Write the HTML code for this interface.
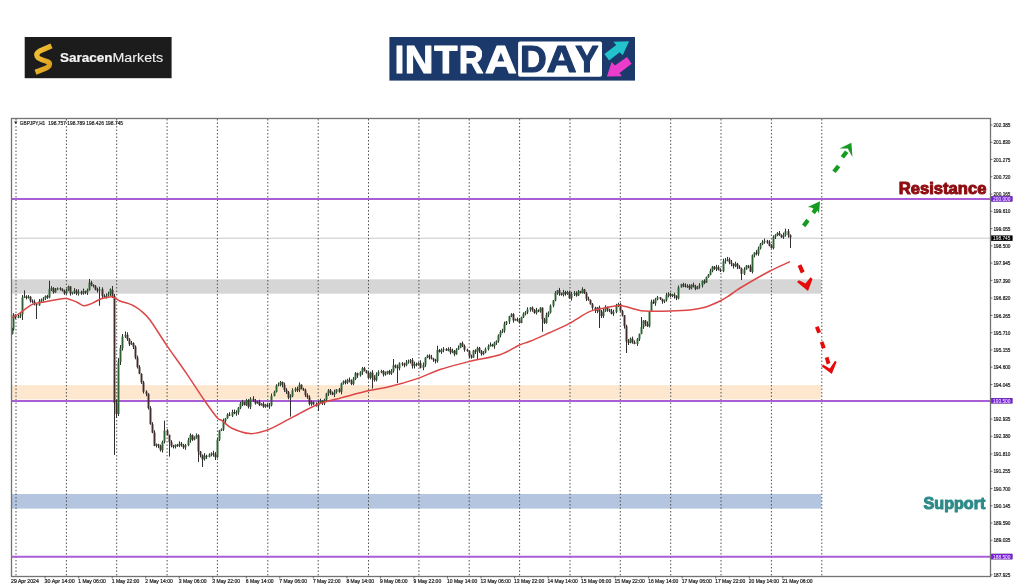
<!DOCTYPE html>
<html><head><meta charset="utf-8">
<style>
html,body{margin:0;padding:0;background:#fff;}
body{width:1024px;height:587px;overflow:hidden;position:relative;font-family:"Liberation Sans",sans-serif;}
svg{position:absolute;left:0;top:0;will-change:transform;}
svg text{font-family:"Liberation Sans",sans-serif;}
</style></head><body>
<svg width="1024" height="587" viewBox="0 0 1024 587">
<rect x="24.7" y="37" width="146.9" height="41.2" fill="#1c1c1c"/>
<defs><linearGradient id="gg" x1="0" y1="0" x2="1" y2="1"><stop offset="0" stop-color="#f5c53a"/><stop offset="1" stop-color="#d99a18"/></linearGradient></defs>
<path d="M51.5,45.8 L39.5,51.2 Q35.8,53.2 37.2,56.6 Q38.2,58.6 41.5,59.6 L47.5,61.6 Q50.6,63 49.2,65.6 Q48.2,67.2 45.5,68.4 L35.5,72.2" fill="none" stroke="url(#gg)" stroke-width="5.2" stroke-linejoin="round"/>
<text transform="translate(59.91 61.60) scale(1.1346 1)" font-size="11.92" font-weight="bold" fill="#f4f4f4" stroke="#f4f4f4" stroke-width="0.20" stroke-linejoin="round">Saracen</text>
<text transform="translate(112.48 61.65) scale(1.1838 1)" font-size="12.06"  fill="#f0f0f0" stroke="#f0f0f0" stroke-width="0.10" stroke-linejoin="round">Markets</text>
<rect x="389.4" y="37" width="245.6" height="43.6" fill="#1b3a6b"/>
<text transform="translate(394.87 72.55) scale(0.8735 1)" font-size="38.95" font-weight="bold" fill="#ffffff" stroke="#ffffff" stroke-width="1.10" stroke-linejoin="round">I</text>
<text transform="translate(404.68 72.55) scale(1.0216 1)" font-size="38.95" font-weight="bold" fill="#ffffff" stroke="#ffffff" stroke-width="1.10" stroke-linejoin="round">N</text>
<text transform="translate(434.23 72.55) scale(0.9763 1)" font-size="38.95" font-weight="bold" fill="#ffffff" stroke="#ffffff" stroke-width="1.10" stroke-linejoin="round">T</text>
<text transform="translate(458.76 72.55) scale(0.8787 1)" font-size="38.95" font-weight="bold" fill="#ffffff" stroke="#ffffff" stroke-width="1.10" stroke-linejoin="round">R</text>
<text transform="translate(484.95 72.55) scale(1.1286 1)" font-size="38.95" font-weight="bold" fill="#ffffff" stroke="#ffffff" stroke-width="1.10" stroke-linejoin="round">A</text>
<rect x="518.1" y="41.4" width="83.9" height="35.3" rx="2" fill="#fff"/>
<text transform="translate(520.07 71.75) scale(1.0070 1)" font-size="36.77" font-weight="bold" fill="#1b3a6b" stroke="#1b3a6b" stroke-width="1.10" stroke-linejoin="round">D</text>
<text transform="translate(546.51 71.75) scale(1.1348 1)" font-size="36.77" font-weight="bold" fill="#1b3a6b" stroke="#1b3a6b" stroke-width="1.10" stroke-linejoin="round">A</text>
<text transform="translate(575.15 71.75) scale(0.9522 1)" font-size="36.77" font-weight="bold" fill="#1b3a6b" stroke="#1b3a6b" stroke-width="1.10" stroke-linejoin="round">Y</text>
<polygon points="604.4,54 609.1,60.4 619.7,52.3 622.7,55.3 629.1,41.2 613.3,41.7 616.3,45.1" fill="#22c3cc"/>
<polygon points="606.9,76.6 611.6,62.1 615,65.5 627,57 631.6,63.8 619.5,73 621.9,76.2" fill="#ec3ccb"/>
<rect x="12" y="279.3" width="809.3" height="14.4" fill="#d6d6d6"/>
<rect x="12" y="385.2" width="809.3" height="14.2" fill="#fde7cf"/>
<rect x="12" y="494" width="809.3" height="14.6" fill="#b3c5df"/>
<line x1="12" y1="238.2" x2="990" y2="238.2" stroke="#c8c8c8" stroke-width="1"/>
<line x1="16.0" y1="119" x2="16.0" y2="576" stroke="#505050" stroke-width="1" stroke-dasharray="1.5,2"/>
<line x1="66.4" y1="119" x2="66.4" y2="576" stroke="#505050" stroke-width="1" stroke-dasharray="1.5,2"/>
<line x1="116.7" y1="119" x2="116.7" y2="576" stroke="#505050" stroke-width="1" stroke-dasharray="1.5,2"/>
<line x1="167.1" y1="119" x2="167.1" y2="576" stroke="#505050" stroke-width="1" stroke-dasharray="1.5,2"/>
<line x1="217.4" y1="119" x2="217.4" y2="576" stroke="#505050" stroke-width="1" stroke-dasharray="1.5,2"/>
<line x1="267.8" y1="119" x2="267.8" y2="576" stroke="#505050" stroke-width="1" stroke-dasharray="1.5,2"/>
<line x1="318.2" y1="119" x2="318.2" y2="576" stroke="#505050" stroke-width="1" stroke-dasharray="1.5,2"/>
<line x1="368.5" y1="119" x2="368.5" y2="576" stroke="#505050" stroke-width="1" stroke-dasharray="1.5,2"/>
<line x1="418.9" y1="119" x2="418.9" y2="576" stroke="#505050" stroke-width="1" stroke-dasharray="1.5,2"/>
<line x1="469.2" y1="119" x2="469.2" y2="576" stroke="#505050" stroke-width="1" stroke-dasharray="1.5,2"/>
<line x1="519.6" y1="119" x2="519.6" y2="576" stroke="#505050" stroke-width="1" stroke-dasharray="1.5,2"/>
<line x1="570.0" y1="119" x2="570.0" y2="576" stroke="#505050" stroke-width="1" stroke-dasharray="1.5,2"/>
<line x1="620.3" y1="119" x2="620.3" y2="576" stroke="#505050" stroke-width="1" stroke-dasharray="1.5,2"/>
<line x1="670.7" y1="119" x2="670.7" y2="576" stroke="#505050" stroke-width="1" stroke-dasharray="1.5,2"/>
<line x1="721.0" y1="119" x2="721.0" y2="576" stroke="#505050" stroke-width="1" stroke-dasharray="1.5,2"/>
<line x1="771.4" y1="119" x2="771.4" y2="576" stroke="#505050" stroke-width="1" stroke-dasharray="1.5,2"/>
<line x1="821.8" y1="119" x2="821.8" y2="576" stroke="#505050" stroke-width="1" stroke-dasharray="1.5,2"/>
<line x1="12" y1="198.9" x2="990" y2="198.9" stroke="#a95ed6" stroke-width="2"/>
<line x1="12" y1="400.9" x2="990" y2="400.9" stroke="#a95ed6" stroke-width="2"/>
<line x1="12" y1="556.8" x2="990" y2="556.8" stroke="#a95ed6" stroke-width="2"/>
<path d="M12.50,327.8V334.5M13.50,313.2V330.7M15.50,314.3V319.1M18.50,314.8V318.2M20.50,312.7V318.1M22.50,295.0V320.0M24.50,290.3V298.1M26.50,295.2V299.4M28.50,295.1V298.6M30.50,296.2V302.7M32.50,299.4V303.3M34.50,299.6V305.4M36.50,303.2V319.0M39.50,299.1V305.8M41.50,298.5V302.6M43.50,297.1V301.6M45.50,295.4V299.9M47.50,294.8V298.9M49.50,280.7V298.4M51.50,286.2V291.0M53.50,287.1V293.6M55.50,288.0V292.8M57.50,287.5V290.3M60.50,287.2V290.5M62.50,288.3V291.5M64.50,289.6V294.8M66.50,288.8V294.5M68.50,285.6V291.2M70.50,286.1V295.6M72.50,291.7V294.6M74.50,288.1V293.9M76.50,289.1V295.2M78.50,289.4V295.6M81.50,290.6V294.8M83.50,288.6V294.7M85.50,290.6V294.1M87.50,288.6V294.9M89.50,279.0V290.6M91.50,280.8V286.3M93.50,284.3V287.5M95.50,285.1V290.3M97.50,287.7V292.6M99.50,286.8V305.8M102.50,287.4V298.4M104.50,294.2V297.6M106.50,293.3V298.6M108.50,291.7V296.6M110.50,288.4V295.9M112.50,286.0V298.0M114.50,294.0V455.0M116.50,400.0V418.0M118.50,358.0V416.0M120.50,345.0V365.0M122.50,334.0V350.5M125.50,331.5V338.0M127.50,332.3V340.9M129.50,338.1V346.1M131.50,340.9V344.9M133.50,342.3V349.0M135.50,345.4V359.3M137.50,355.6V368.5M139.50,365.1V374.2M141.50,373.3V383.9M143.50,380.9V393.5M146.50,390.3V396.3M148.50,393.2V409.6M150.50,406.1V424.7M152.50,422.2V433.2M154.50,430.3V446.2M156.50,443.5V447.5M158.50,443.8V448.1M160.50,444.6V451.5M162.50,440.6V452.5M164.50,420.6V443.4M167.50,429.2V435.6M169.50,434.6V456.6M171.50,440.2V447.4M173.50,444.8V448.4M175.50,444.3V448.5M177.50,443.9V446.8M179.50,441.3V447.2M181.50,442.0V446.7M183.50,443.9V448.9M185.50,443.9V449.8M188.50,437.8V446.2M190.50,433.4V442.7M192.50,434.4V440.9M194.50,436.3V440.4M196.50,433.4V438.7M198.50,434.3V462.0M200.50,451.0V457.4M202.50,454.4V467.0M204.50,453.1V460.6M206.50,454.7V459.0M209.50,453.3V457.4M211.50,452.3V456.3M213.50,450.8V456.7M215.50,452.1V460.0M217.50,437.6V458.2M219.50,429.9V441.0M221.50,428.4V431.1M223.50,418.6V430.9M225.50,418.0V422.9M227.50,413.2V418.9M229.50,412.2V416.1M232.50,409.7V417.0M234.50,409.5V414.2M236.50,410.3V415.8M238.50,407.0V414.7M240.50,401.7V409.2M242.50,399.9V406.0M244.50,401.7V405.5M246.50,398.9V406.0M248.50,399.1V408.5M250.50,397.2V409.1M253.50,396.2V401.8M255.50,399.0V404.6M257.50,400.6V403.8M259.50,399.7V406.1M261.50,403.1V405.7M263.50,402.0V407.8M265.50,403.8V407.8M267.50,403.3V407.2M269.50,402.9V408.9M271.50,393.5V406.4M274.50,390.7V396.3M276.50,384.3V392.6M278.50,382.5V386.4M280.50,381.0V386.4M282.50,381.5V387.4M284.50,382.6V391.9M286.50,388.1V394.0M288.50,391.0V399.3M290.50,394.3V416.6M292.50,388.3V397.2M295.50,387.3V391.9M297.50,386.6V392.0M299.50,382.4V392.2M301.50,384.4V389.5M303.50,387.8V390.9M305.50,388.6V397.0M307.50,393.4V398.8M309.50,395.3V405.5M311.50,400.5V405.8M313.50,401.2V404.9M316.50,402.4V406.6M318.50,400.6V411.0M320.50,398.7V403.8M322.50,400.3V405.0M324.50,398.7V405.1M326.50,392.8V401.1M328.50,389.0V395.9M330.50,389.0V394.8M332.50,391.5V395.2M334.50,389.7V397.1M336.50,389.0V393.6M339.50,388.0V392.7M341.50,382.6V394.3M343.50,380.4V384.6M345.50,379.6V384.4M347.50,378.7V384.1M349.50,377.5V382.4M351.50,379.3V385.1M353.50,377.1V385.2M355.50,372.1V380.1M357.50,372.6V377.9M360.50,371.2V376.6M362.50,367.0V374.8M364.50,366.9V371.5M366.50,370.1V373.6M368.50,370.6V378.8M370.50,371.7V379.4M372.50,370.1V388.6M374.50,375.2V381.6M376.50,372.3V381.4M378.50,370.3V376.0M381.50,369.8V373.2M383.50,370.1V376.5M385.50,371.5V375.7M387.50,370.7V374.5M389.50,369.8V374.8M391.50,369.1V375.0M393.50,359.0V372.7M395.50,364.4V368.3M397.50,364.7V383.0M399.50,362.3V370.3M402.50,362.1V366.1M404.50,362.7V367.3M406.50,360.0V366.3M408.50,359.6V363.7M410.50,359.0V363.5M412.50,358.1V368.6M414.50,361.7V368.5M416.50,362.6V366.4M418.50,362.1V365.7M420.50,360.4V368.4M423.50,362.5V370.2M425.50,357.1V366.9M427.50,354.6V358.2M429.50,354.3V359.5M431.50,354.9V359.4M433.50,357.8V361.9M435.50,358.8V363.4M437.50,345.7V362.7M439.50,349.0V352.4M441.50,348.4V353.9M443.50,347.1V352.3M446.50,348.1V351.0M448.50,347.3V351.3M450.50,347.0V354.3M452.50,348.6V353.1M454.50,350.0V356.2M456.50,348.2V354.9M458.50,345.5V350.0M460.50,342.8V348.2M462.50,341.5V347.1M464.50,344.5V351.7M467.50,348.7V351.7M469.50,350.4V358.3M471.50,354.6V358.7M473.50,349.9V357.8M475.50,349.3V354.0M477.50,346.7V360.0M479.50,346.9V352.9M481.50,350.0V355.7M483.50,351.1V355.2M485.50,347.5V353.3M488.50,344.4V350.5M490.50,342.4V346.6M492.50,343.8V346.7M494.50,341.8V348.8M496.50,340.3V344.9M498.50,334.3V342.7M500.50,330.2V337.4M502.50,328.8V333.2M504.50,321.6V332.8M506.50,321.0V325.1M509.50,315.8V324.0M511.50,313.2V317.2M513.50,313.1V322.6M515.50,318.6V320.8M517.50,317.5V321.6M519.50,317.9V323.7M521.50,316.7V323.3M523.50,312.3V318.0M525.50,311.1V315.4M527.50,307.3V314.2M530.50,307.1V311.7M532.50,306.5V311.8M534.50,309.0V313.8M536.50,307.9V314.6M538.50,309.4V312.2M540.50,307.2V312.7M542.50,307.3V331.8M544.50,317.9V324.0M546.50,312.6V323.7M548.50,311.4V317.2M550.50,304.4V313.5M553.50,300.0V307.4M555.50,291.1V301.3M557.50,289.9V294.8M559.50,287.9V295.8M561.50,292.6V295.7M563.50,289.9V296.5M565.50,290.8V295.6M567.50,290.8V294.9M569.50,290.8V298.7M571.50,291.8V300.6M574.50,291.0V296.0M576.50,291.3V296.7M578.50,290.0V296.1M580.50,290.8V293.5M582.50,287.3V293.6M584.50,288.9V294.0M586.50,291.8V301.1M588.50,296.6V300.8M590.50,299.4V304.7M592.50,303.0V309.8M595.50,306.7V313.0M597.50,307.0V313.2M599.50,305.6V328.0M601.50,310.0V318.0M603.50,308.8V317.9M605.50,305.2V311.9M607.50,306.5V311.8M609.50,308.7V312.2M611.50,308.9V314.4M613.50,309.7V315.9M616.50,303.8V313.2M618.50,302.7V307.1M620.50,303.0V311.9M622.50,309.9V316.5M624.50,315.0V328.6M626.50,324.7V353.0M628.50,339.1V345.0M630.50,337.5V343.3M632.50,336.6V343.7M634.50,340.4V344.3M637.50,337.9V345.9M639.50,333.5V341.0M641.50,317.0V334.3M643.50,320.1V328.8M645.50,320.0V326.2M647.50,321.4V326.9M649.50,310.9V327.4M651.50,299.7V312.0M653.50,299.5V304.0M655.50,297.9V305.8M657.50,295.9V300.4M660.50,297.0V299.9M662.50,298.5V303.7M664.50,299.5V303.1M666.50,292.8V301.6M668.50,292.2V297.4M670.50,292.6V297.2M672.50,293.8V297.2M674.50,292.7V298.6M676.50,295.2V300.1M678.50,285.5V299.4M681.50,283.8V287.7M683.50,282.8V287.2M685.50,283.3V287.5M687.50,284.2V287.9M689.50,284.3V289.8M691.50,284.2V289.4M693.50,282.6V287.4M695.50,284.8V290.2M697.50,285.8V289.5M699.50,283.2V288.8M702.50,280.4V287.5M704.50,279.3V284.2M706.50,276.5V283.0M708.50,274.0V277.8M710.50,268.7V275.3M712.50,265.9V272.3M714.50,266.0V269.9M716.50,264.9V271.0M718.50,265.3V270.4M720.50,268.3V272.0M723.50,258.7V272.2M725.50,258.0V263.7M727.50,256.9V261.3M729.50,257.5V264.3M731.50,260.0V266.3M733.50,263.2V268.5M735.50,261.7V267.2M737.50,262.9V269.1M739.50,265.2V268.8M741.50,267.6V280.0M744.50,267.2V275.0M746.50,265.0V269.7M748.50,265.1V268.3M750.50,264.6V272.0M752.50,254.5V273.4M754.50,252.2V257.4M756.50,250.1V255.4M758.50,246.6V255.8M760.50,243.0V249.5M762.50,240.2V245.2M764.50,238.6V243.7M767.50,239.9V243.8M769.50,240.2V246.3M771.50,244.1V248.5M773.50,235.4V249.4M775.50,234.1V239.0M777.50,232.1V236.2M779.50,231.0V235.8M781.50,234.3V237.8M783.50,232.6V239.0M785.50,228.7V236.6M788.50,229.0V237.7M790.50,234.4V248.0" stroke="#303030" stroke-width="1" fill="none"/>
<g fill="#2b6231"><rect x="11.55" y="329.6" width="1.9" height="4.4"/><rect x="12.55" y="314.7" width="1.9" height="14.9"/><rect x="17.55" y="316.4" width="1.9" height="1.4"/><rect x="19.55" y="314.4" width="1.9" height="2.0"/><rect x="21.55" y="297.5" width="1.9" height="16.9"/><rect x="23.55" y="296.5" width="1.9" height="1.1"/><rect x="27.55" y="296.7" width="1.9" height="1.2"/><rect x="38.55" y="301.2" width="1.9" height="4.1"/><rect x="40.55" y="299.5" width="1.9" height="1.7"/><rect x="42.55" y="298.4" width="1.9" height="1.2"/><rect x="44.55" y="295.9" width="1.9" height="2.4"/><rect x="48.55" y="289.2" width="1.9" height="8.3"/><rect x="50.55" y="288.1" width="1.9" height="1.1"/><rect x="54.55" y="289.8" width="1.9" height="2.6"/><rect x="56.55" y="288.1" width="1.9" height="1.8"/><rect x="65.55" y="290.7" width="1.9" height="2.6"/><rect x="67.55" y="286.4" width="1.9" height="4.2"/><rect x="71.55" y="292.0" width="1.9" height="1.4"/><rect x="73.55" y="290.6" width="1.9" height="1.4"/><rect x="77.55" y="291.8" width="1.9" height="1.8"/><rect x="82.55" y="291.2" width="1.9" height="2.2"/><rect x="86.55" y="290.2" width="1.9" height="2.2"/><rect x="88.55" y="282.5" width="1.9" height="7.7"/><rect x="98.55" y="289.3" width="1.9" height="1.3"/><rect x="105.55" y="295.6" width="1.9" height="1.5"/><rect x="107.55" y="293.8" width="1.9" height="1.8"/><rect x="109.55" y="289.2" width="1.9" height="4.6"/><rect x="117.55" y="362.0" width="1.9" height="52.0"/><rect x="119.55" y="348.0" width="1.9" height="14.0"/><rect x="121.55" y="336.6" width="1.9" height="11.4"/><rect x="124.55" y="334.9" width="1.9" height="1.7"/><rect x="130.55" y="343.1" width="1.9" height="1.3"/><rect x="155.55" y="444.4" width="1.9" height="1.4"/><rect x="161.55" y="441.9" width="1.9" height="8.2"/><rect x="163.55" y="430.5" width="1.9" height="11.3"/><rect x="174.55" y="444.8" width="1.9" height="2.1"/><rect x="178.55" y="443.7" width="1.9" height="2.1"/><rect x="184.55" y="445.3" width="1.9" height="2.0"/><rect x="187.55" y="440.3" width="1.9" height="5.0"/><rect x="189.55" y="435.0" width="1.9" height="5.3"/><rect x="193.55" y="437.6" width="1.9" height="2.0"/><rect x="195.55" y="435.2" width="1.9" height="2.4"/><rect x="203.55" y="455.7" width="1.9" height="3.6"/><rect x="208.55" y="454.6" width="1.9" height="2.4"/><rect x="210.55" y="453.4" width="1.9" height="1.3"/><rect x="216.55" y="439.7" width="1.9" height="17.6"/><rect x="218.55" y="430.4" width="1.9" height="9.3"/><rect x="220.55" y="429.3" width="1.9" height="1.1"/><rect x="222.55" y="421.0" width="1.9" height="8.3"/><rect x="224.55" y="418.5" width="1.9" height="2.6"/><rect x="226.55" y="414.5" width="1.9" height="3.9"/><rect x="231.55" y="412.0" width="1.9" height="3.7"/><rect x="235.55" y="412.2" width="1.9" height="1.1"/><rect x="237.55" y="407.7" width="1.9" height="4.5"/><rect x="239.55" y="403.5" width="1.9" height="4.3"/><rect x="241.55" y="402.0" width="1.9" height="1.4"/><rect x="245.55" y="400.4" width="1.9" height="4.7"/><rect x="249.55" y="398.7" width="1.9" height="8.0"/><rect x="256.55" y="401.7" width="1.9" height="1.7"/><rect x="260.55" y="403.8" width="1.9" height="1.4"/><rect x="264.55" y="404.6" width="1.9" height="2.2"/><rect x="268.55" y="405.4" width="1.9" height="1.0"/><rect x="270.55" y="396.0" width="1.9" height="9.3"/><rect x="273.55" y="391.9" width="1.9" height="4.2"/><rect x="275.55" y="385.8" width="1.9" height="6.1"/><rect x="277.55" y="384.7" width="1.9" height="1.1"/><rect x="279.55" y="382.0" width="1.9" height="2.7"/><rect x="289.55" y="396.5" width="1.9" height="1.1"/><rect x="291.55" y="390.4" width="1.9" height="6.1"/><rect x="294.55" y="388.8" width="1.9" height="1.7"/><rect x="298.55" y="384.7" width="1.9" height="5.6"/><rect x="310.55" y="402.1" width="1.9" height="1.9"/><rect x="317.55" y="402.9" width="1.9" height="2.9"/><rect x="319.55" y="401.1" width="1.9" height="1.8"/><rect x="323.55" y="399.7" width="1.9" height="3.6"/><rect x="325.55" y="393.4" width="1.9" height="6.3"/><rect x="327.55" y="390.4" width="1.9" height="3.0"/><rect x="333.55" y="392.2" width="1.9" height="2.4"/><rect x="335.55" y="389.3" width="1.9" height="2.9"/><rect x="340.55" y="383.4" width="1.9" height="8.4"/><rect x="342.55" y="381.3" width="1.9" height="2.1"/><rect x="346.55" y="379.9" width="1.9" height="2.8"/><rect x="352.55" y="379.1" width="1.9" height="4.8"/><rect x="354.55" y="373.2" width="1.9" height="5.9"/><rect x="359.55" y="372.2" width="1.9" height="3.3"/><rect x="361.55" y="368.2" width="1.9" height="4.0"/><rect x="369.55" y="372.6" width="1.9" height="5.3"/><rect x="375.55" y="374.3" width="1.9" height="5.8"/><rect x="377.55" y="372.3" width="1.9" height="2.0"/><rect x="380.55" y="371.0" width="1.9" height="1.3"/><rect x="384.55" y="373.1" width="1.9" height="1.5"/><rect x="386.55" y="371.1" width="1.9" height="2.0"/><rect x="390.55" y="371.1" width="1.9" height="2.6"/><rect x="392.55" y="365.3" width="1.9" height="5.8"/><rect x="398.55" y="363.3" width="1.9" height="5.0"/><rect x="405.55" y="362.4" width="1.9" height="2.7"/><rect x="407.55" y="361.4" width="1.9" height="1.0"/><rect x="409.55" y="360.2" width="1.9" height="1.2"/><rect x="413.55" y="364.1" width="1.9" height="1.9"/><rect x="417.55" y="362.9" width="1.9" height="2.2"/><rect x="422.55" y="364.8" width="1.9" height="3.0"/><rect x="424.55" y="357.6" width="1.9" height="7.2"/><rect x="426.55" y="355.6" width="1.9" height="2.0"/><rect x="436.55" y="350.0" width="1.9" height="11.2"/><rect x="440.55" y="349.9" width="1.9" height="2.2"/><rect x="442.55" y="348.9" width="1.9" height="1.0"/><rect x="447.55" y="349.1" width="1.9" height="1.5"/><rect x="451.55" y="350.8" width="1.9" height="1.5"/><rect x="455.55" y="349.6" width="1.9" height="4.6"/><rect x="457.55" y="347.9" width="1.9" height="1.7"/><rect x="459.55" y="343.2" width="1.9" height="4.7"/><rect x="472.55" y="350.6" width="1.9" height="6.9"/><rect x="476.55" y="347.9" width="1.9" height="3.8"/><rect x="482.55" y="352.5" width="1.9" height="1.7"/><rect x="484.55" y="349.2" width="1.9" height="3.2"/><rect x="487.55" y="346.1" width="1.9" height="3.1"/><rect x="489.55" y="344.6" width="1.9" height="1.6"/><rect x="493.55" y="342.9" width="1.9" height="3.3"/><rect x="495.55" y="340.8" width="1.9" height="2.2"/><rect x="497.55" y="335.3" width="1.9" height="5.5"/><rect x="499.55" y="331.9" width="1.9" height="3.4"/><rect x="501.55" y="330.7" width="1.9" height="1.2"/><rect x="503.55" y="323.7" width="1.9" height="7.0"/><rect x="505.55" y="321.6" width="1.9" height="2.1"/><rect x="508.55" y="316.1" width="1.9" height="5.4"/><rect x="510.55" y="314.2" width="1.9" height="1.9"/><rect x="514.55" y="319.1" width="1.9" height="1.4"/><rect x="520.55" y="317.2" width="1.9" height="5.6"/><rect x="522.55" y="313.7" width="1.9" height="3.5"/><rect x="524.55" y="312.4" width="1.9" height="1.3"/><rect x="526.55" y="309.5" width="1.9" height="2.9"/><rect x="529.55" y="307.6" width="1.9" height="1.9"/><rect x="535.55" y="310.3" width="1.9" height="2.7"/><rect x="539.55" y="307.7" width="1.9" height="3.6"/><rect x="545.55" y="315.0" width="1.9" height="7.9"/><rect x="547.55" y="312.6" width="1.9" height="2.4"/><rect x="549.55" y="305.7" width="1.9" height="6.8"/><rect x="552.55" y="300.5" width="1.9" height="5.2"/><rect x="554.55" y="292.8" width="1.9" height="7.7"/><rect x="556.55" y="290.3" width="1.9" height="2.5"/><rect x="562.55" y="292.0" width="1.9" height="2.9"/><rect x="566.55" y="292.0" width="1.9" height="2.0"/><rect x="570.55" y="293.9" width="1.9" height="4.4"/><rect x="573.55" y="293.0" width="1.9" height="1.0"/><rect x="577.55" y="291.3" width="1.9" height="4.2"/><rect x="581.55" y="289.3" width="1.9" height="3.6"/><rect x="596.55" y="307.4" width="1.9" height="3.4"/><rect x="602.55" y="311.1" width="1.9" height="5.0"/><rect x="604.55" y="306.9" width="1.9" height="4.2"/><rect x="612.55" y="312.0" width="1.9" height="1.6"/><rect x="615.55" y="304.9" width="1.9" height="7.2"/><rect x="617.55" y="304.0" width="1.9" height="1.0"/><rect x="629.55" y="338.7" width="1.9" height="4.1"/><rect x="636.55" y="339.0" width="1.9" height="5.0"/><rect x="638.55" y="334.0" width="1.9" height="5.0"/><rect x="640.55" y="327.0" width="1.9" height="6.9"/><rect x="642.55" y="320.6" width="1.9" height="6.5"/><rect x="648.55" y="311.4" width="1.9" height="14.9"/><rect x="650.55" y="301.7" width="1.9" height="9.6"/><rect x="654.55" y="299.3" width="1.9" height="4.0"/><rect x="656.55" y="297.3" width="1.9" height="2.0"/><rect x="663.55" y="300.0" width="1.9" height="1.5"/><rect x="665.55" y="295.1" width="1.9" height="4.9"/><rect x="667.55" y="293.8" width="1.9" height="1.4"/><rect x="671.55" y="294.5" width="1.9" height="1.6"/><rect x="677.55" y="287.3" width="1.9" height="11.1"/><rect x="680.55" y="284.1" width="1.9" height="3.2"/><rect x="686.55" y="285.8" width="1.9" height="1.1"/><rect x="690.55" y="284.8" width="1.9" height="3.5"/><rect x="696.55" y="286.3" width="1.9" height="2.6"/><rect x="698.55" y="285.4" width="1.9" height="1.0"/><rect x="701.55" y="280.8" width="1.9" height="4.5"/><rect x="705.55" y="277.2" width="1.9" height="5.5"/><rect x="707.55" y="274.8" width="1.9" height="2.4"/><rect x="709.55" y="271.1" width="1.9" height="3.7"/><rect x="711.55" y="266.7" width="1.9" height="4.4"/><rect x="715.55" y="267.2" width="1.9" height="1.7"/><rect x="722.55" y="261.3" width="1.9" height="10.0"/><rect x="724.55" y="260.4" width="1.9" height="1.0"/><rect x="726.55" y="259.4" width="1.9" height="1.0"/><rect x="734.55" y="263.7" width="1.9" height="2.4"/><rect x="743.55" y="269.3" width="1.9" height="4.5"/><rect x="745.55" y="265.7" width="1.9" height="3.7"/><rect x="751.55" y="255.2" width="1.9" height="16.5"/><rect x="753.55" y="252.6" width="1.9" height="2.6"/><rect x="757.55" y="248.6" width="1.9" height="5.3"/><rect x="759.55" y="244.2" width="1.9" height="4.4"/><rect x="761.55" y="242.0" width="1.9" height="2.2"/><rect x="763.55" y="240.8" width="1.9" height="1.2"/><rect x="772.55" y="236.7" width="1.9" height="11.4"/><rect x="774.55" y="234.9" width="1.9" height="1.8"/><rect x="776.55" y="233.0" width="1.9" height="1.9"/><rect x="782.55" y="235.1" width="1.9" height="2.2"/><rect x="784.55" y="231.2" width="1.9" height="3.9"/></g>
<g fill="#432c2c"><rect x="14.55" y="314.7" width="1.9" height="3.1"/><rect x="25.55" y="296.5" width="1.9" height="1.4"/><rect x="29.55" y="296.7" width="1.9" height="4.1"/><rect x="31.55" y="300.8" width="1.9" height="1.0"/><rect x="33.55" y="301.7" width="1.9" height="2.3"/><rect x="35.55" y="304.1" width="1.9" height="1.3"/><rect x="46.55" y="295.9" width="1.9" height="1.5"/><rect x="52.55" y="288.1" width="1.9" height="4.3"/><rect x="59.55" y="288.1" width="1.9" height="1.2"/><rect x="61.55" y="289.3" width="1.9" height="1.6"/><rect x="63.55" y="290.9" width="1.9" height="2.4"/><rect x="69.55" y="286.4" width="1.9" height="6.9"/><rect x="75.55" y="290.6" width="1.9" height="2.9"/><rect x="80.55" y="291.8" width="1.9" height="1.6"/><rect x="84.55" y="291.2" width="1.9" height="1.2"/><rect x="90.55" y="282.5" width="1.9" height="2.4"/><rect x="92.55" y="284.9" width="1.9" height="1.2"/><rect x="94.55" y="286.1" width="1.9" height="3.6"/><rect x="96.55" y="289.7" width="1.9" height="1.0"/><rect x="101.55" y="289.3" width="1.9" height="6.8"/><rect x="103.55" y="296.0" width="1.9" height="1.1"/><rect x="111.55" y="290.0" width="1.9" height="6.0"/><rect x="113.55" y="296.0" width="1.9" height="107.0"/><rect x="115.55" y="403.0" width="1.9" height="11.0"/><rect x="126.55" y="334.9" width="1.9" height="4.3"/><rect x="128.55" y="339.2" width="1.9" height="5.1"/><rect x="132.55" y="343.1" width="1.9" height="3.6"/><rect x="134.55" y="346.7" width="1.9" height="10.9"/><rect x="136.55" y="357.6" width="1.9" height="9.5"/><rect x="138.55" y="367.1" width="1.9" height="6.6"/><rect x="140.55" y="373.7" width="1.9" height="8.6"/><rect x="142.55" y="382.3" width="1.9" height="9.4"/><rect x="145.55" y="391.6" width="1.9" height="2.2"/><rect x="147.55" y="393.8" width="1.9" height="14.2"/><rect x="149.55" y="408.1" width="1.9" height="16.1"/><rect x="151.55" y="424.2" width="1.9" height="8.4"/><rect x="153.55" y="432.6" width="1.9" height="13.3"/><rect x="157.55" y="444.4" width="1.9" height="1.3"/><rect x="159.55" y="445.7" width="1.9" height="4.4"/><rect x="166.55" y="430.5" width="1.9" height="4.3"/><rect x="168.55" y="434.9" width="1.9" height="7.3"/><rect x="170.55" y="442.1" width="1.9" height="3.7"/><rect x="172.55" y="445.8" width="1.9" height="1.1"/><rect x="176.55" y="444.8" width="1.9" height="1.1"/><rect x="180.55" y="443.7" width="1.9" height="1.5"/><rect x="182.55" y="445.3" width="1.9" height="2.1"/><rect x="191.55" y="435.0" width="1.9" height="4.6"/><rect x="197.55" y="435.2" width="1.9" height="16.3"/><rect x="199.55" y="451.5" width="1.9" height="3.6"/><rect x="201.55" y="455.1" width="1.9" height="4.2"/><rect x="205.55" y="455.7" width="1.9" height="1.3"/><rect x="212.55" y="453.4" width="1.9" height="1.3"/><rect x="214.55" y="454.6" width="1.9" height="2.6"/><rect x="228.55" y="414.5" width="1.9" height="1.1"/><rect x="233.55" y="412.0" width="1.9" height="1.4"/><rect x="243.55" y="402.0" width="1.9" height="3.1"/><rect x="247.55" y="400.4" width="1.9" height="6.3"/><rect x="252.55" y="398.7" width="1.9" height="2.0"/><rect x="254.55" y="400.8" width="1.9" height="2.7"/><rect x="258.55" y="401.7" width="1.9" height="3.5"/><rect x="262.55" y="403.8" width="1.9" height="3.0"/><rect x="266.55" y="404.6" width="1.9" height="1.7"/><rect x="281.55" y="382.0" width="1.9" height="2.9"/><rect x="283.55" y="384.9" width="1.9" height="4.9"/><rect x="285.55" y="389.8" width="1.9" height="2.2"/><rect x="287.55" y="392.0" width="1.9" height="5.6"/><rect x="296.55" y="388.8" width="1.9" height="1.6"/><rect x="300.55" y="384.7" width="1.9" height="4.2"/><rect x="302.55" y="388.9" width="1.9" height="1.4"/><rect x="304.55" y="390.3" width="1.9" height="4.9"/><rect x="306.55" y="395.3" width="1.9" height="2.1"/><rect x="308.55" y="397.4" width="1.9" height="6.7"/><rect x="312.55" y="402.1" width="1.9" height="2.3"/><rect x="315.55" y="404.4" width="1.9" height="1.4"/><rect x="321.55" y="401.1" width="1.9" height="2.2"/><rect x="329.55" y="390.4" width="1.9" height="2.5"/><rect x="331.55" y="392.9" width="1.9" height="1.7"/><rect x="338.55" y="389.3" width="1.9" height="2.4"/><rect x="344.55" y="381.3" width="1.9" height="1.4"/><rect x="348.55" y="379.9" width="1.9" height="1.3"/><rect x="350.55" y="381.2" width="1.9" height="2.7"/><rect x="356.55" y="373.2" width="1.9" height="2.3"/><rect x="363.55" y="368.2" width="1.9" height="2.4"/><rect x="365.55" y="370.6" width="1.9" height="2.5"/><rect x="367.55" y="373.1" width="1.9" height="4.8"/><rect x="371.55" y="372.6" width="1.9" height="5.1"/><rect x="373.55" y="377.7" width="1.9" height="2.4"/><rect x="382.55" y="371.0" width="1.9" height="3.5"/><rect x="388.55" y="371.1" width="1.9" height="2.6"/><rect x="394.55" y="365.3" width="1.9" height="1.4"/><rect x="396.55" y="366.7" width="1.9" height="1.6"/><rect x="401.55" y="363.3" width="1.9" height="1.0"/><rect x="403.55" y="364.3" width="1.9" height="1.0"/><rect x="411.55" y="360.2" width="1.9" height="5.8"/><rect x="415.55" y="364.1" width="1.9" height="1.0"/><rect x="419.55" y="362.9" width="1.9" height="4.9"/><rect x="428.55" y="355.6" width="1.9" height="1.8"/><rect x="430.55" y="357.4" width="1.9" height="1.3"/><rect x="432.55" y="358.7" width="1.9" height="1.1"/><rect x="434.55" y="359.8" width="1.9" height="1.4"/><rect x="438.55" y="350.0" width="1.9" height="2.1"/><rect x="445.55" y="348.9" width="1.9" height="1.7"/><rect x="449.55" y="349.1" width="1.9" height="3.2"/><rect x="453.55" y="350.8" width="1.9" height="3.4"/><rect x="461.55" y="343.2" width="1.9" height="2.7"/><rect x="463.55" y="345.8" width="1.9" height="3.9"/><rect x="466.55" y="349.7" width="1.9" height="1.4"/><rect x="468.55" y="351.1" width="1.9" height="5.3"/><rect x="470.55" y="356.5" width="1.9" height="1.0"/><rect x="474.55" y="350.6" width="1.9" height="1.1"/><rect x="478.55" y="347.9" width="1.9" height="2.9"/><rect x="480.55" y="350.8" width="1.9" height="3.4"/><rect x="491.55" y="344.6" width="1.9" height="1.7"/><rect x="512.55" y="314.2" width="1.9" height="6.2"/><rect x="516.55" y="319.1" width="1.9" height="1.4"/><rect x="518.55" y="320.5" width="1.9" height="2.3"/><rect x="531.55" y="307.6" width="1.9" height="2.2"/><rect x="533.55" y="309.8" width="1.9" height="3.1"/><rect x="537.55" y="310.3" width="1.9" height="1.1"/><rect x="541.55" y="307.7" width="1.9" height="11.5"/><rect x="543.55" y="319.2" width="1.9" height="3.7"/><rect x="558.55" y="290.3" width="1.9" height="3.3"/><rect x="560.55" y="293.6" width="1.9" height="1.3"/><rect x="564.55" y="292.0" width="1.9" height="2.0"/><rect x="568.55" y="292.0" width="1.9" height="6.2"/><rect x="575.55" y="293.0" width="1.9" height="2.4"/><rect x="579.55" y="291.3" width="1.9" height="1.6"/><rect x="583.55" y="289.3" width="1.9" height="4.1"/><rect x="585.55" y="293.4" width="1.9" height="5.3"/><rect x="587.55" y="298.6" width="1.9" height="1.4"/><rect x="589.55" y="300.1" width="1.9" height="4.1"/><rect x="591.55" y="304.2" width="1.9" height="3.5"/><rect x="594.55" y="307.7" width="1.9" height="3.0"/><rect x="598.55" y="307.4" width="1.9" height="4.6"/><rect x="600.55" y="311.9" width="1.9" height="4.2"/><rect x="606.55" y="306.9" width="1.9" height="2.4"/><rect x="608.55" y="309.3" width="1.9" height="1.7"/><rect x="610.55" y="311.1" width="1.9" height="2.6"/><rect x="619.55" y="304.0" width="1.9" height="7.0"/><rect x="621.55" y="311.1" width="1.9" height="4.3"/><rect x="623.55" y="315.3" width="1.9" height="10.7"/><rect x="625.55" y="326.1" width="1.9" height="15.3"/><rect x="627.55" y="341.3" width="1.9" height="1.5"/><rect x="631.55" y="338.7" width="1.9" height="3.5"/><rect x="633.55" y="342.3" width="1.9" height="1.7"/><rect x="644.55" y="320.6" width="1.9" height="3.2"/><rect x="646.55" y="323.8" width="1.9" height="2.4"/><rect x="652.55" y="301.7" width="1.9" height="1.6"/><rect x="659.55" y="297.3" width="1.9" height="1.9"/><rect x="661.55" y="299.2" width="1.9" height="2.3"/><rect x="669.55" y="293.8" width="1.9" height="2.3"/><rect x="673.55" y="294.5" width="1.9" height="1.7"/><rect x="675.55" y="296.1" width="1.9" height="2.2"/><rect x="682.55" y="284.1" width="1.9" height="1.6"/><rect x="684.55" y="285.7" width="1.9" height="1.2"/><rect x="688.55" y="285.8" width="1.9" height="2.5"/><rect x="692.55" y="284.8" width="1.9" height="1.9"/><rect x="694.55" y="286.7" width="1.9" height="2.2"/><rect x="703.55" y="280.8" width="1.9" height="1.9"/><rect x="713.55" y="266.7" width="1.9" height="2.2"/><rect x="717.55" y="267.2" width="1.9" height="2.9"/><rect x="719.55" y="270.1" width="1.9" height="1.1"/><rect x="728.55" y="259.4" width="1.9" height="3.1"/><rect x="730.55" y="262.5" width="1.9" height="1.4"/><rect x="732.55" y="263.9" width="1.9" height="2.2"/><rect x="736.55" y="263.7" width="1.9" height="3.0"/><rect x="738.55" y="266.8" width="1.9" height="1.7"/><rect x="740.55" y="268.5" width="1.9" height="5.4"/><rect x="747.55" y="265.7" width="1.9" height="1.0"/><rect x="749.55" y="266.5" width="1.9" height="5.1"/><rect x="755.55" y="252.6" width="1.9" height="1.3"/><rect x="766.55" y="240.8" width="1.9" height="1.9"/><rect x="768.55" y="242.7" width="1.9" height="3.2"/><rect x="770.55" y="245.8" width="1.9" height="2.3"/><rect x="778.55" y="233.0" width="1.9" height="2.3"/><rect x="780.55" y="235.4" width="1.9" height="1.9"/><rect x="787.55" y="231.2" width="1.9" height="4.0"/><rect x="789.55" y="235.2" width="1.9" height="2.3"/></g>
<path d="M12.0,317.7 C13.3,316.9 16.7,315.2 20.0,313.0 C23.3,310.8 28.0,306.4 32.0,304.6 C36.0,302.8 40.0,302.8 44.0,302.0 C48.0,301.2 52.3,300.4 56.0,299.8 C59.7,299.2 62.5,298.2 66.0,298.6 C69.5,299.0 74.0,301.0 77.0,302.2 C80.0,303.4 81.5,305.6 84.0,305.8 C86.5,306.0 89.3,304.5 92.0,303.4 C94.7,302.3 97.5,300.2 100.0,299.2 C102.5,298.2 104.8,297.8 107.0,297.4 C109.2,297.0 110.8,296.4 113.0,297.0 C115.2,297.6 117.5,299.9 120.0,301.0 C122.5,302.1 125.7,302.6 128.0,303.4 C130.3,304.2 132.0,304.9 134.0,306.0 C136.0,307.1 137.3,307.7 140.0,310.0 C142.7,312.3 145.7,314.3 150.0,320.0 C154.3,325.7 159.9,335.4 166.0,344.3 C172.1,353.2 180.2,364.2 186.6,373.6 C193.0,383.0 199.4,393.2 204.5,400.5 C209.6,407.8 214.1,414.1 217.0,417.5 C219.9,420.9 219.5,418.8 222.0,420.6 C224.5,422.4 227.3,426.1 232.0,428.3 C236.7,430.5 244.2,433.3 250.0,433.6 C255.8,433.9 260.3,432.7 267.0,430.2 C273.7,427.7 281.5,422.9 290.0,418.6 C298.5,414.3 309.7,407.7 318.0,404.3 C326.3,400.9 335.5,399.4 340.0,398.2 C344.5,396.9 340.3,398.1 345.0,396.8 C349.7,395.6 360.5,392.4 368.0,390.7 C375.5,389.0 381.7,388.7 390.0,386.6 C398.3,384.6 409.7,381.2 418.0,378.4 C426.3,375.5 431.5,372.3 440.0,369.5 C448.5,366.7 459.0,364.1 469.0,361.6 C479.0,359.1 491.7,357.4 500.0,354.7 C508.3,352.0 514.0,347.4 519.0,345.2 C524.0,343.0 524.8,343.4 530.0,341.3 C535.2,339.2 543.5,335.4 550.0,332.5 C556.5,329.6 562.3,327.1 569.0,323.6 C575.7,320.1 584.0,314.0 590.0,311.4 C596.0,308.8 600.0,309.0 605.0,308.0 C610.0,307.0 615.0,305.3 620.0,305.5 C625.0,305.7 630.8,308.4 635.0,309.3 C639.2,310.2 639.2,310.7 645.0,311.0 C650.8,311.3 662.5,311.2 670.0,311.0 C677.5,310.8 684.2,310.6 690.0,310.0 C695.8,309.4 700.0,308.8 705.0,307.3 C710.0,305.8 715.8,303.1 720.0,301.0 C724.2,298.9 726.5,297.2 730.0,295.0 C733.5,292.8 734.3,291.5 741.0,287.5 C747.7,283.5 761.8,275.3 770.0,271.0 C778.2,266.7 786.7,263.2 790.0,261.6" stroke="#dc4646" stroke-width="1.5" fill="none" stroke-linejoin="round"/>
<rect x="11.5" y="118.5" width="979" height="458" fill="none" stroke="#737373" stroke-width="1.3"/>
<g font-size="6" fill="#1a1a1a" stroke="#1a1a1a" stroke-width="0.22">
<line x1="990" y1="125.0" x2="992.5" y2="125.0" stroke="#555" stroke-width="0.8"/>
<text x="993.5" y="127.1" textLength="17" lengthAdjust="spacingAndGlyphs">202.385</text>
<line x1="990" y1="142.3" x2="992.5" y2="142.3" stroke="#555" stroke-width="0.8"/>
<text x="993.5" y="144.4" textLength="17" lengthAdjust="spacingAndGlyphs">201.830</text>
<line x1="990" y1="159.5" x2="992.5" y2="159.5" stroke="#555" stroke-width="0.8"/>
<text x="993.5" y="161.6" textLength="17" lengthAdjust="spacingAndGlyphs">201.275</text>
<line x1="990" y1="176.8" x2="992.5" y2="176.8" stroke="#555" stroke-width="0.8"/>
<text x="993.5" y="178.9" textLength="17" lengthAdjust="spacingAndGlyphs">200.720</text>
<line x1="990" y1="194.1" x2="992.5" y2="194.1" stroke="#555" stroke-width="0.8"/>
<text x="993.5" y="196.2" textLength="17" lengthAdjust="spacingAndGlyphs">200.165</text>
<line x1="990" y1="211.3" x2="992.5" y2="211.3" stroke="#555" stroke-width="0.8"/>
<text x="993.5" y="213.4" textLength="17" lengthAdjust="spacingAndGlyphs">199.610</text>
<line x1="990" y1="228.6" x2="992.5" y2="228.6" stroke="#555" stroke-width="0.8"/>
<text x="993.5" y="230.7" textLength="17" lengthAdjust="spacingAndGlyphs">199.055</text>
<line x1="990" y1="245.9" x2="992.5" y2="245.9" stroke="#555" stroke-width="0.8"/>
<text x="993.5" y="248.0" textLength="17" lengthAdjust="spacingAndGlyphs">198.500</text>
<line x1="990" y1="263.1" x2="992.5" y2="263.1" stroke="#555" stroke-width="0.8"/>
<text x="993.5" y="265.2" textLength="17" lengthAdjust="spacingAndGlyphs">197.945</text>
<line x1="990" y1="280.4" x2="992.5" y2="280.4" stroke="#555" stroke-width="0.8"/>
<text x="993.5" y="282.5" textLength="17" lengthAdjust="spacingAndGlyphs">197.390</text>
<line x1="990" y1="298.1" x2="992.5" y2="298.1" stroke="#555" stroke-width="0.8"/>
<text x="993.5" y="300.2" textLength="17" lengthAdjust="spacingAndGlyphs">196.820</text>
<line x1="990" y1="315.4" x2="992.5" y2="315.4" stroke="#555" stroke-width="0.8"/>
<text x="993.5" y="317.5" textLength="17" lengthAdjust="spacingAndGlyphs">196.265</text>
<line x1="990" y1="332.7" x2="992.5" y2="332.7" stroke="#555" stroke-width="0.8"/>
<text x="993.5" y="334.8" textLength="17" lengthAdjust="spacingAndGlyphs">195.710</text>
<line x1="990" y1="349.9" x2="992.5" y2="349.9" stroke="#555" stroke-width="0.8"/>
<text x="993.5" y="352.0" textLength="17" lengthAdjust="spacingAndGlyphs">195.155</text>
<line x1="990" y1="367.2" x2="992.5" y2="367.2" stroke="#555" stroke-width="0.8"/>
<text x="993.5" y="369.3" textLength="17" lengthAdjust="spacingAndGlyphs">194.600</text>
<line x1="990" y1="384.5" x2="992.5" y2="384.5" stroke="#555" stroke-width="0.8"/>
<text x="993.5" y="386.6" textLength="17" lengthAdjust="spacingAndGlyphs">194.045</text>
<line x1="990" y1="419.0" x2="992.5" y2="419.0" stroke="#555" stroke-width="0.8"/>
<text x="993.5" y="421.1" textLength="17" lengthAdjust="spacingAndGlyphs">192.935</text>
<line x1="990" y1="436.3" x2="992.5" y2="436.3" stroke="#555" stroke-width="0.8"/>
<text x="993.5" y="438.4" textLength="17" lengthAdjust="spacingAndGlyphs">192.380</text>
<line x1="990" y1="454.0" x2="992.5" y2="454.0" stroke="#555" stroke-width="0.8"/>
<text x="993.5" y="456.1" textLength="17" lengthAdjust="spacingAndGlyphs">191.810</text>
<line x1="990" y1="471.3" x2="992.5" y2="471.3" stroke="#555" stroke-width="0.8"/>
<text x="993.5" y="473.4" textLength="17" lengthAdjust="spacingAndGlyphs">191.255</text>
<line x1="990" y1="488.5" x2="992.5" y2="488.5" stroke="#555" stroke-width="0.8"/>
<text x="993.5" y="490.6" textLength="17" lengthAdjust="spacingAndGlyphs">190.700</text>
<line x1="990" y1="505.8" x2="992.5" y2="505.8" stroke="#555" stroke-width="0.8"/>
<text x="993.5" y="507.9" textLength="17" lengthAdjust="spacingAndGlyphs">190.145</text>
<line x1="990" y1="523.1" x2="992.5" y2="523.1" stroke="#555" stroke-width="0.8"/>
<text x="993.5" y="525.2" textLength="17" lengthAdjust="spacingAndGlyphs">189.590</text>
<line x1="990" y1="540.3" x2="992.5" y2="540.3" stroke="#555" stroke-width="0.8"/>
<text x="993.5" y="542.4" textLength="17" lengthAdjust="spacingAndGlyphs">189.035</text>
<line x1="990" y1="574.9" x2="992.5" y2="574.9" stroke="#555" stroke-width="0.8"/>
<text x="993.5" y="577.0" textLength="17" lengthAdjust="spacingAndGlyphs">187.925</text>
<rect x="991.2" y="196.2" width="21.3" height="5.4" fill="#7a1ee0"/>
<text x="993" y="201.0" fill="#fff" stroke="none" textLength="17.5" lengthAdjust="spacingAndGlyphs">200.000</text>
<rect x="991.2" y="398.1" width="21.3" height="5.4" fill="#7a1ee0"/>
<text x="993" y="402.9" fill="#fff" stroke="none" textLength="17.5" lengthAdjust="spacingAndGlyphs">193.500</text>
<rect x="991.2" y="553.9" width="21.3" height="5.4" fill="#7a1ee0"/>
<text x="993" y="558.7" fill="#fff" stroke="none" textLength="17.5" lengthAdjust="spacingAndGlyphs">188.500</text>
<rect x="991.2" y="235.5" width="21.3" height="5.4" fill="#000"/>
<text x="993" y="240.3" fill="#fff" stroke="none" textLength="17.5" lengthAdjust="spacingAndGlyphs">198.745</text>
</g>
<g font-size="5.6" fill="#1a1a1a" stroke="#1a1a1a" stroke-width="0.22">
<text x="11.1" y="583.3" textLength="27.7" lengthAdjust="spacingAndGlyphs">29 Apr 2024</text>
<line x1="45.1" y1="576" x2="45.1" y2="578.5" stroke="#555" stroke-width="0.8"/>
<text x="44.6" y="583.3" textLength="30.2" lengthAdjust="spacingAndGlyphs">30 Apr 14:00</text>
<line x1="78.7" y1="576" x2="78.7" y2="578.5" stroke="#555" stroke-width="0.8"/>
<text x="78.2" y="583.3" textLength="27.7" lengthAdjust="spacingAndGlyphs">1 May 06:00</text>
<line x1="112.2" y1="576" x2="112.2" y2="578.5" stroke="#555" stroke-width="0.8"/>
<text x="111.7" y="583.3" textLength="27.7" lengthAdjust="spacingAndGlyphs">1 May 22:00</text>
<line x1="145.7" y1="576" x2="145.7" y2="578.5" stroke="#555" stroke-width="0.8"/>
<text x="145.2" y="583.3" textLength="27.7" lengthAdjust="spacingAndGlyphs">2 May 14:00</text>
<line x1="179.2" y1="576" x2="179.2" y2="578.5" stroke="#555" stroke-width="0.8"/>
<text x="178.8" y="583.3" textLength="27.7" lengthAdjust="spacingAndGlyphs">3 May 06:00</text>
<line x1="212.8" y1="576" x2="212.8" y2="578.5" stroke="#555" stroke-width="0.8"/>
<text x="212.3" y="583.3" textLength="27.7" lengthAdjust="spacingAndGlyphs">3 May 22:00</text>
<line x1="246.3" y1="576" x2="246.3" y2="578.5" stroke="#555" stroke-width="0.8"/>
<text x="245.8" y="583.3" textLength="27.7" lengthAdjust="spacingAndGlyphs">6 May 14:00</text>
<line x1="279.8" y1="576" x2="279.8" y2="578.5" stroke="#555" stroke-width="0.8"/>
<text x="279.3" y="583.3" textLength="27.7" lengthAdjust="spacingAndGlyphs">7 May 06:00</text>
<line x1="313.4" y1="576" x2="313.4" y2="578.5" stroke="#555" stroke-width="0.8"/>
<text x="312.9" y="583.3" textLength="27.7" lengthAdjust="spacingAndGlyphs">7 May 22:00</text>
<line x1="346.9" y1="576" x2="346.9" y2="578.5" stroke="#555" stroke-width="0.8"/>
<text x="346.4" y="583.3" textLength="27.7" lengthAdjust="spacingAndGlyphs">8 May 14:00</text>
<line x1="380.4" y1="576" x2="380.4" y2="578.5" stroke="#555" stroke-width="0.8"/>
<text x="379.9" y="583.3" textLength="27.7" lengthAdjust="spacingAndGlyphs">9 May 06:00</text>
<line x1="414.0" y1="576" x2="414.0" y2="578.5" stroke="#555" stroke-width="0.8"/>
<text x="413.5" y="583.3" textLength="27.7" lengthAdjust="spacingAndGlyphs">9 May 22:00</text>
<line x1="447.5" y1="576" x2="447.5" y2="578.5" stroke="#555" stroke-width="0.8"/>
<text x="447.0" y="583.3" textLength="30.2" lengthAdjust="spacingAndGlyphs">10 May 14:00</text>
<line x1="481.0" y1="576" x2="481.0" y2="578.5" stroke="#555" stroke-width="0.8"/>
<text x="480.5" y="583.3" textLength="30.2" lengthAdjust="spacingAndGlyphs">13 May 06:00</text>
<line x1="514.6" y1="576" x2="514.6" y2="578.5" stroke="#555" stroke-width="0.8"/>
<text x="514.1" y="583.3" textLength="30.2" lengthAdjust="spacingAndGlyphs">13 May 22:00</text>
<line x1="548.1" y1="576" x2="548.1" y2="578.5" stroke="#555" stroke-width="0.8"/>
<text x="547.6" y="583.3" textLength="30.2" lengthAdjust="spacingAndGlyphs">14 May 14:00</text>
<line x1="581.6" y1="576" x2="581.6" y2="578.5" stroke="#555" stroke-width="0.8"/>
<text x="581.1" y="583.3" textLength="30.2" lengthAdjust="spacingAndGlyphs">15 May 06:00</text>
<line x1="615.1" y1="576" x2="615.1" y2="578.5" stroke="#555" stroke-width="0.8"/>
<text x="614.6" y="583.3" textLength="30.2" lengthAdjust="spacingAndGlyphs">15 May 22:00</text>
<line x1="648.7" y1="576" x2="648.7" y2="578.5" stroke="#555" stroke-width="0.8"/>
<text x="648.2" y="583.3" textLength="30.2" lengthAdjust="spacingAndGlyphs">16 May 14:00</text>
<line x1="682.2" y1="576" x2="682.2" y2="578.5" stroke="#555" stroke-width="0.8"/>
<text x="681.7" y="583.3" textLength="30.2" lengthAdjust="spacingAndGlyphs">17 May 06:00</text>
<line x1="715.7" y1="576" x2="715.7" y2="578.5" stroke="#555" stroke-width="0.8"/>
<text x="715.2" y="583.3" textLength="30.2" lengthAdjust="spacingAndGlyphs">17 May 22:00</text>
<line x1="749.3" y1="576" x2="749.3" y2="578.5" stroke="#555" stroke-width="0.8"/>
<text x="748.8" y="583.3" textLength="30.2" lengthAdjust="spacingAndGlyphs">20 May 14:00</text>
<line x1="782.8" y1="576" x2="782.8" y2="578.5" stroke="#555" stroke-width="0.8"/>
<text x="782.3" y="583.3" textLength="30.2" lengthAdjust="spacingAndGlyphs">21 May 06:00</text>
</g>
<polygon points="14,121.5 17.5,121.5 15.75,124" fill="#222"/>
<text x="19.8" y="125.3" font-size="5.6" fill="#222" stroke="#222" stroke-width="0.2" textLength="25.4" lengthAdjust="spacingAndGlyphs">GBPJPY,H1</text>
<text x="48.2" y="125.3" font-size="5.6" fill="#222" stroke="#222" stroke-width="0.2" textLength="74.9" lengthAdjust="spacingAndGlyphs">198.757 198.789 198.426 198.745</text>
<text transform="translate(898.79 193.70) scale(1.0290 1)" font-size="16.13" font-weight="bold" fill="#8e0c10" stroke="#8e0c10" stroke-width="1.00" stroke-linejoin="round">Resistance</text>
<text transform="translate(923.53 508.70) scale(1.0241 1)" font-size="15.76" font-weight="bold" fill="#2f8a8a" stroke="#2f8a8a" stroke-width="1.00" stroke-linejoin="round">Support</text>
<g fill="#179a22">
<polygon points="802,224.5 805.3,227.2 809.6,221.5 806.3,218.8"/>
<polygon points="811.5,211.5 814.8,214.2 817.5,210.6 819,213.4 820,201.2 807.8,206.9 811.2,207.5 813.5,208.8"/>
<polygon points="832.3,170.4 835.7,173 840.3,167.3 836.9,164.7"/>
<polygon points="840.7,156 844,158.6 848.4,153 845,150.4"/>
<polygon points="839.6,148.4 851.4,142.8 852.4,157.1 847.8,148.6"/>
</g>
<g fill="#e60a0a">
<polygon points="797.6,266 801.3,264.2 804.6,271.6 800.9,273.4"/>
<polygon points="797,282 799,280.3 805.5,283.5 810.5,277.3 812.5,279 808,291"/>
<polygon points="815,327.4 818.6,326 821,332 817.4,333.4"/>
<polygon points="819.8,342.6 823.4,341.2 825.7,347.6 822.1,349"/>
<polygon points="824.8,358.1 828.4,356.7 830.4,363 826.8,364.4"/>
<polygon points="821.5,366.2 823.3,364.8 829.8,368.5 835,360.8 836.6,362 831.8,374"/>
</g>
</svg>
</body></html>
